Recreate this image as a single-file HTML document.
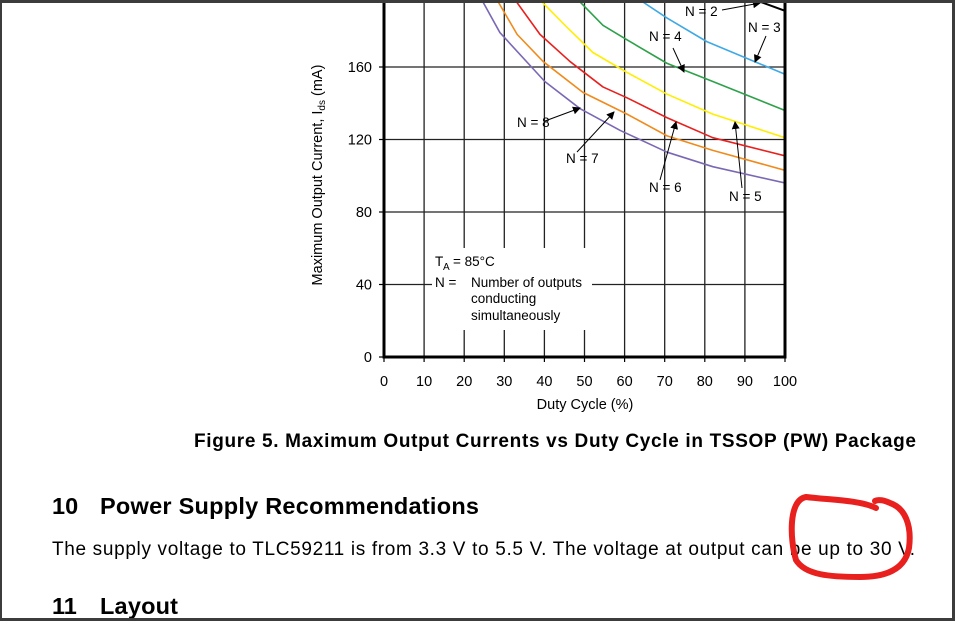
<!DOCTYPE html>
<html><head><meta charset="utf-8"><style>
html,body{margin:0;padding:0;background:#fff;}
svg{display:block;font-family:"Liberation Sans",Arial,sans-serif;}
</style></head><body>
<svg id="s" width="955" height="621" viewBox="0 0 955 621">
<defs><marker id="ah" markerWidth="8" markerHeight="8" refX="7" refY="4" orient="auto" markerUnits="userSpaceOnUse"><path d="M0,0 L8,4 L0,8 z" fill="#000"/></marker>
<clipPath id="pc"><rect x="384" y="3" width="401" height="354"/></clipPath></defs>
<rect x="0" y="0" width="955" height="621" fill="#fff"/>
<g id="grid"></g>
<g id="curves" clip-path="url(#pc)"></g>
<rect x="432" y="248" width="160" height="82" fill="#fff"/>
<g font-size="13.5">
<text x="435" y="266">T</text><text x="443" y="270" font-size="10">A</text><text x="453" y="266">=  85°C</text>
<text x="435" y="287">N  =</text><text x="471" y="287">Number of outputs</text>
<text x="471" y="303">conducting</text><text x="471" y="320">simultaneously</text>
</g>
<g id="axes"></g>
<g id="labels" font-size="13.5"></g>
<text x="322" y="175" font-size="14.5" text-anchor="middle" transform="rotate(-90 322 175)">Maximum Output Current, I<tspan font-size="10" dy="3">ds</tspan><tspan dy="-3"> (mA)</tspan></text>
<text x="585" y="409" font-size="14.5" text-anchor="middle">Duty Cycle (%)</text>
<text x="194" y="447" font-size="19" font-weight="bold" textLength="722">Figure 5.  Maximum Output Currents vs Duty Cycle in TSSOP (PW) Package</text>
<g font-size="23.5" font-weight="bold"><text x="52" y="514">10</text><text x="100" y="514" textLength="379">Power Supply Recommendations</text></g>
<text x="52" y="555" font-size="19" textLength="863">The supply voltage to TLC59211 is from 3.3 V to 5.5 V. The voltage at output can be up to 30 V.</text>
<g font-size="23.5" font-weight="bold"><text x="52" y="614">11</text><text x="100" y="614" textLength="78">Layout</text></g>
<path d="M876,508 C860,500 830,500 806,497 C788,500 790,540 796,560 C805,575 830,577 860,577 C885,577 905,570 909,548 C912,525 905,508 890,503 C880,498 875,501 875,501" fill="none" stroke="#e8201e" stroke-width="6" stroke-linecap="round"/>
<rect x="0" y="0" width="955" height="3" fill="#3c3c3c"/>
<rect x="0" y="0" width="2" height="621" fill="#3c3c3c"/>
<rect x="952" y="0" width="3" height="621" fill="#3c3c3c"/>
<rect x="0" y="618" width="955" height="3" fill="#3c3c3c"/>
</svg>
<script>
const xTicks=[0,10,20,30,40,50,60,70,80,90,100];
const yTicks=[0,40,80,120,160];
const seriesNames=["N = 8","N = 7","N = 6","N = 5","N = 4","N = 3","N = 2"];
const seriesColors=["#7b68b5","#f08a1c","#e8201e","#ffee00","#2ea14a","#3fa9e6","#000"];
const d8=[[24.4,197],[28.9,179],[40.1,152],[48.9,137],[58.9,125],[70.6,113],[82,105],[100,96]];
const d7=[[28.2,197],[33.2,178],[39.7,163],[49.6,146],[60.6,134],[70.6,122],[82,114],[100,103]];
const d6=[[32.7,197],[38.9,178],[46.4,163],[54.6,149],[60.6,143],[70.6,132],[82,121],[100,111]];
const d5=[[38.9,197],[45.6,182],[52.1,168],[60.6,157],[70.6,145],[82,134],[100,121]];
const d4=[[48.4,197],[54.6,183],[60.6,175],[70.6,162],[82,152],[100,136]];
const d3=[[63.8,197],[70.6,187],[80.5,174],[100,156]];
const d2=[[93.8,196],[100,191]];
const series=[d8,d7,d6,d5,d4,d3,d2];
const X=v=>384+v*4.01, Y=v=>357-v*1.8125;
const NS="http://www.w3.org/2000/svg";
function mk(t,a,p){const e=document.createElementNS(NS,t);for(const k in a)e.setAttribute(k,a[k]);p.appendChild(e);return e;}
const grid=document.getElementById('grid'),axes=document.getElementById('axes'),cur=document.getElementById('curves'),lab=document.getElementById('labels');
xTicks.forEach(v=>{if(v>0&&v<100){const l=mk('line',{x1:X(v),x2:X(v),y1:3,y2:357,stroke:'#222','stroke-width':1.3},grid);

}
const tk=mk('line',{x1:X(v),x2:X(v),y1:357,y2:362,stroke:'#000','stroke-width':1.2},axes);


const t=mk('text',{x:X(v),y:386,'font-size':14.5,'text-anchor':'middle'},axes);t.textContent=v;

});
yTicks.forEach(v=>{if(v>0){const l=mk('line',{x1:384,x2:785,y1:Y(v),y2:Y(v),stroke:'#222','stroke-width':1.3},grid);

}
const tk=mk('line',{x1:379,x2:384,y1:Y(v),y2:Y(v),stroke:'#000','stroke-width':1.2},axes);


const t=mk('text',{x:372,y:Y(v)+5,'font-size':14.5,'text-anchor':'end'},axes);t.textContent=v;

});
const fr=mk('path',{d:`M384,3 V357 H785 V3`,fill:'none',stroke:'#000','stroke-width':3},axes);


series.forEach((s,i)=>{const p=mk('polyline',{points:s.map(q=>X(q[0])+','+Y(q[1])).join(' '),fill:'none',stroke:seriesColors[i],'stroke-width':i==6?2:1.6,'stroke-linejoin':'round'},cur);

});
const lbls=[["N = 2",685,16,722,10,760,3],["N = 3",748,32,766,36,755,62],["N = 4",649,41,673,48,684,72],["N = 8",517,127,545,121,580,108],["N = 7",566,163,577,152,614,112],["N = 6",649,192,660,180,676,122],["N = 5",729,201,742,188,735,122]];
lbls.forEach(l=>{const t=mk('text',{x:l[1],y:l[2]},lab);t.textContent=l[0];


const a=mk('line',{x1:l[3],y1:l[4],x2:l[5],y2:l[6],stroke:'#000','stroke-width':1,'marker-end':'url(#ah)'},lab);

});
</script>
</body></html>
